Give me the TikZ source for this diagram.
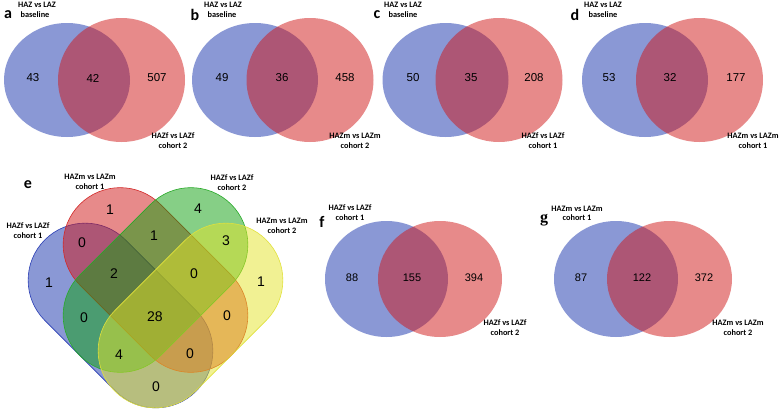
\documentclass[tikz,border=0pt]{standalone}
\usepackage{fontspec}
\setmainfont{Liberation Sans}
\newfontfamily\labfont{Carlito}
\newfontfamily\serifb{Liberation Serif}
\definecolor{vblue}{RGB}{22,50,172}
\definecolor{vred}{RGB}{208,22,22}
\definecolor{vgreen}{RGB}{14,160,14}
\definecolor{vyellow}{RGB}{228,228,40}
\definecolor{lblue}{RGB}{40,60,180}
\definecolor{lred}{RGB}{210,40,40}
\definecolor{lgreen}{RGB}{40,170,40}
\definecolor{lyellow}{RGB}{225,225,60}
\tikzset{
  bset/.style={fill=vblue, fill opacity=0.5},
  rset/.style={fill=vred, fill opacity=0.5},
  num/.style={font=\fontsize{11.5}{12}\selectfont, inner sep=0pt},
  numE/.style={font=\fontsize{14}{15}\selectfont, inner sep=0pt},
  numF/.style={font=\fontsize{11}{12}\selectfont, inner sep=0pt},
  lab/.style={font=\labfont\bfseries\fontsize{8.3}{10}\selectfont, inner sep=0pt, align=center},
  letter/.style={font=\labfont\bfseries\fontsize{16}{16}\selectfont, inner sep=0pt},
}
\newcommand{\stadium}[5]{% center x, y, angle, fill, draw
  \begin{scope}[shift={(#1,#2)}, rotate=#3]
    \filldraw[fill=#4, fill opacity=0.5, draw=#5, line width=0.6pt]
      (-50,-57) -- (50,-57) arc[start angle=-90, end angle=90, radius=57]
      -- (-50,57) arc[start angle=90, end angle=270, radius=57] -- cycle;
  \end{scope}}
\begin{document}
\begin{tikzpicture}[x=1pt,y=-1pt]
\useasboundingbox[fill=white] (0,0) rectangle (780,413);
% ---------- panels a-d ----------
\foreach \bx/\rx/\n/\na/\nb/\nc/\xa/\xb/\xc/\lx/\ly/\tl/\tx/\bl/\bxx in {
  67/121.5/a/43/42/507/33/93/157/8/37/{HAZf vs LAZf}/173/{cohort 2}/35,
  255/310/b/49/36/458/222/282/345/195/223/{HAZm vs LAZm}/355/{cohort 2}/222,
  445.5/499/c/50/35/208/413/471/534/377/403/{HAZf vs LAZf}/543/{cohort 1}/403,
  645/699.5/d/53/32/177/609/670/736/575/603/{HAZm vs LAZm}/753/{cohort 1}/603}{
  \fill[bset] (\bx,80) ellipse [x radius=63, y radius=57];
  \fill[rset] (\rx,80) ellipse [x radius=63.5, y radius=62];
  \node[num] (n1\n) at (\xa,78) {\na};
  \node[num] (n2\n) at (\xb,78) {\nb};
  \node[num] (n3\n) at (\xc,78) {\nc};
  \node[letter] (L\n) at (\lx,15) {\n};
  \node[lab] (t1\n) at (\ly,5) {HAZ vs LAZ};
  \node[lab] (t2\n) at (\bxx,15) {baseline};
  \node[lab] (b1\n) at (\tx,136) {\tl};
  \node[lab] (b2\n) at (\tx,146) {\bl};
}
% ---------- panel e ----------
\stadium{120.5}{315.5}{-45}{vblue}{lblue}
\stadium{155.5}{280}{-45}{vred}{lred}
\stadium{155.5}{280}{45}{vgreen}{lgreen}
\stadium{190.5}{315.5}{45}{vyellow}{lyellow}
\node[numE] (e1) at (110,210) {1};
\node[numE] (e2) at (198,209) {4};
\node[numE] (e3) at (82,243) {0};
\node[numE] (e4) at (154,236) {1};
\node[numE] (e5) at (226,241) {3};
\node[numE] (e6) at (49,283) {1};
\node[numE] (e7) at (114,274) {2};
\node[numE] (e8) at (194,274) {0};
\node[numE] (e9) at (261,282) {1};
\node[numE] (e10) at (84,318) {0};
\node[numE] (e11) at (155,317) {28};
\node[numE] (e12) at (227,316) {0};
\node[numE] (e13) at (119,355) {4};
\node[numE] (e14) at (190,354) {0};
\node[numE] (e15) at (156,387) {0};
\node[letter] (Le) at (28,185) {e};
\node[lab] (le1) at (90,177) {HAZm vs LAZm};
\node[lab] (le2) at (90,187) {cohort 1};
\node[lab] (le3) at (232,178) {HAZf vs LAZf};
\node[lab] (le4) at (232,188) {cohort 2};
\node[lab] (le5) at (282,221) {HAZm vs LAZm};
\node[lab] (le6) at (282,231) {cohort 2};
\node[lab] (le7) at (28,226) {HAZf vs LAZf};
\node[lab] (le8) at (28,236) {cohort 1};
% ---------- panel f ----------
\fill[bset] (386.5,279) ellipse [x radius=61.5, y radius=58];
\fill[rset] (440,279) ellipse [x radius=62, y radius=58];
\node[numF] (f1) at (352,278) {88};
\node[numF] (f2) at (412,278) {155};
\node[numF] (f3) at (474,278) {394};
\node[letter] (Lf) at (322,222) {f};
\node[lab] (lf1) at (350,208) {HAZf vs LAZf};
\node[lab] (lf2) at (350,218) {cohort 1};
\node[lab] (lf3) at (505,323) {HAZf vs LAZf};
\node[lab] (lf4) at (505,333) {cohort 2};
% ---------- panel g ----------
\fill[bset] (616,279) ellipse [x radius=62, y radius=58];
\fill[rset] (669.5,279) ellipse [x radius=62.5, y radius=58];
\node[numF] (g1) at (581,278) {87};
\node[numF] (g2) at (642,278) {122};
\node[numF] (g3) at (704,278) {372};
\node[font=\serifb\bfseries\fontsize{16}{16}\selectfont, inner sep=0pt] (Lg) at (544,220) {g};
\node[lab] (lg1) at (577,209) {HAZm vs LAZm};
\node[lab] (lg2) at (577,218) {cohort 1};
\node[lab] (lg3) at (738,323) {HAZm vs LAZm};
\node[lab] (lg4) at (738,333) {cohort 2};
\end{tikzpicture}
\end{document}
